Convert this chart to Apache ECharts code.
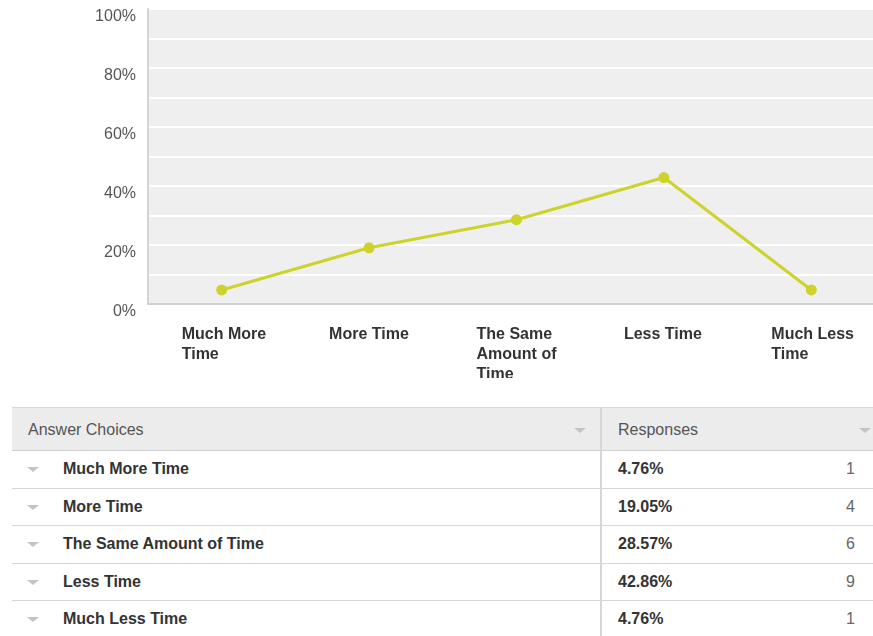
<!DOCTYPE html>
<html>
<head>
<meta charset="utf-8">
<script src="https://cdn.jsdelivr.net/npm/echarts@6/dist/echarts.min.js"></script>
<style>
  html, body { margin: 0; padding: 0; background: #fff; overflow: hidden; width: 873px; height: 636px; }
  #chart { position: absolute; left: 0; top: 0; width: 885px; height: 378px; overflow: hidden; }
  #tbl { position: absolute; left: 12px; top: 407px; width: 873px; border-collapse: collapse; table-layout: fixed;
         font-family: Arial, "Liberation Sans", sans-serif; font-size: 16px; }
  #tbl th { background: #ececec; color: #555; font-weight: normal; text-align: left; height: 40px;
            border-top: 1px solid #d8d8d8; border-bottom: 1px solid #d0d0d0; padding: 2px 0 0 16px; position: relative; }
  #tbl td { height: 36.5px; border-bottom: 1px solid #d6d6d6; padding: 0; color: #333; }
  #tbl th.c1 { width: 572px; }
  #tbl .c1 { border-right: 2px solid #d6d6d6; }
  .tri { display: inline-block; width: 0; height: 0; border-left: 6px solid transparent; border-right: 6px solid transparent;
         border-top: 5px solid #c4c4c4; vertical-align: middle; }
  .name { font-weight: bold; margin-left: 51px; }
  .rowtri { position: absolute; margin-left: 15px; margin-top: 7px; }
  .cnt { color: #666; }
</style>
</head>
<body>
<div id="chart"></div>
<table id="tbl"></table>
<script>
// answer choices and share of responses (%)
const categories = ['Much More Time', 'More Time', 'The Same Amount of Time', 'Less Time', 'Much Less Time'];
const percents = [4.76, 19.05, 28.57, 42.86, 4.76];
const counts = [1, 4, 6, 9, 1];
const yTicks = [0, 20, 40, 60, 80, 100];

// simple word wrap, max ~9 chars per line
function wrap(s) {
  const words = s.split(' ');
  let lines = [], cur = '';
  words.forEach(function (w) {
    if (cur && (cur + ' ' + w).length > 9) { lines.push(cur); cur = w; }
    else cur = cur ? cur + ' ' + w : w;
  });
  lines.push(cur);
  return lines.map(function (l) { return '{a|' + l + '}'; }).join('\n');
}

const myChart = echarts.init(document.getElementById('chart'));
myChart.setOption({
  animation: false,
  grid: {
    left: 148, right: 0, top: 9, bottom: 74,
    outerBoundsMode: 'none',
    containLabel: false,
    show: true, backgroundColor: '#efefef', borderWidth: 0
  },
  xAxis: {
    type: 'category',
    data: categories,
    boundaryGap: true,
    axisLine: { lineStyle: { color: '#cfcfcf', width: 2 } },
    axisTick: { show: false },
    axisLabel: {
      interval: 0,
      margin: 21,
      align: 'center',
      formatter: wrap,
      rich: {
        a: {
          width: 80, align: 'left', lineHeight: 20,
          fontFamily: 'Arial, "Liberation Sans", sans-serif',
          fontSize: 16, fontWeight: 'bold', color: '#333'
        }
      }
    }
  },
  yAxis: {
    type: 'value',
    min: yTicks[0],
    max: yTicks[yTicks.length - 1],
    interval: 20,
    axisLine: { show: true, lineStyle: { color: '#d4d4d4', width: 2 } },
    axisTick: { show: false },
    splitLine: { lineStyle: { color: '#ffffff', width: 2 } },
    minorTick: { show: false, splitNumber: 2 },
    minorSplitLine: { show: true, lineStyle: { color: '#ffffff', width: 2 } },
    axisLabel: {
      margin: 12,
      verticalAlign: 'top',
      formatter: '{value}%',
      fontFamily: 'Arial, "Liberation Sans", sans-serif',
      fontSize: 16,
      color: '#555'
    }
  },
  series: [{
    type: 'line',
    data: percents,
    symbol: 'circle',
    symbolSize: 11,
    lineStyle: { color: '#cdd32b', width: 3 },
    itemStyle: { color: '#cdd32b' }
  }]
});

// responses table
let html = '<tr><th class="c1">Answer Choices<span class="tri" style="position:absolute;right:14px;top:20px"></span></th>' +
  '<th>Responses<span class="tri" style="position:absolute;right:14px;top:20px"></span></th></tr>';
categories.forEach(function (c, i) {
  html += '<tr><td class="c1"><span class="tri rowtri"></span><span class="name">' + c + '</span></td>' +
    '<td><span style="font-weight:bold;padding-left:16px">' + percents[i].toFixed(2) + '%</span>' +
    '<span class="cnt" style="float:right;margin-right:30px">' + counts[i] + '</span></td></tr>';
});
document.getElementById('tbl').innerHTML = html;
</script>
</body>
</html>
